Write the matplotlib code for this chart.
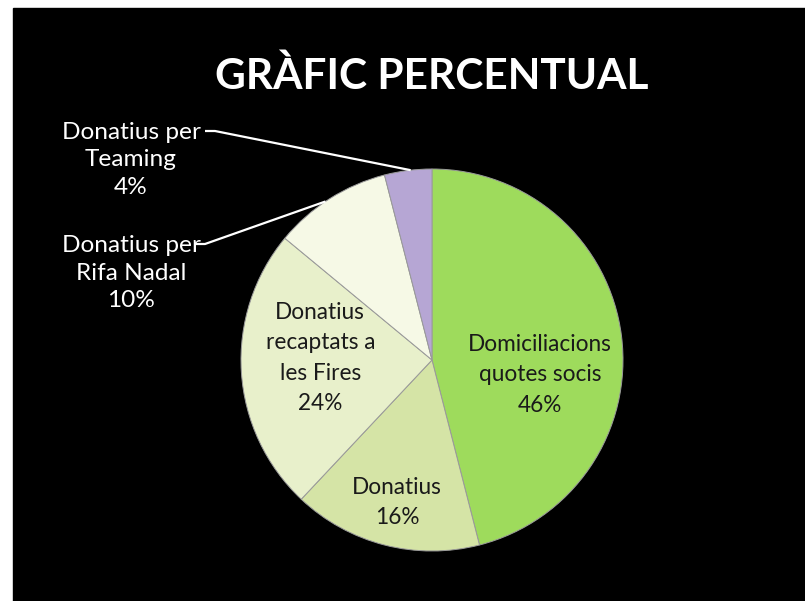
import matplotlib
matplotlib.use("Agg")
import matplotlib.pyplot as plt
import numpy as np

title = "GRÀFIC PERCENTUAL"
categories = ["Domiciliacions\nquotes socis", "Donatius", "Donatius\nrecaptats a\nles Fires",
              "Donatius per\nRifa Nadal", "Donatius per\nTeaming"]
values = [46, 16, 24, 10, 4]
colors = ["#9edb5c", "#d5e4a6", "#e8f0cb", "#f6f9e6", "#b6a6d4"]
inside = [True, True, True, False, False]

W, H = 805, 601
fig = plt.figure(figsize=(W / 100, H / 100), dpi=100)
fig.patch.set_facecolor("white")
ax = fig.add_axes([0, 0, 1, 1])
ax.add_patch(plt.Rectangle((13, 0), W - 13, H - 8, color="black", zorder=0))

cx, cy, R = 432, H - 360, 191
wedges, _ = ax.pie(values, colors=colors, startangle=90, counterclock=False,
                   center=(cx, cy), radius=R, frame=True,
                   wedgeprops=dict(edgecolor="#9a9a9a", linewidth=0.7))
ax.set_xlim(0, W)
ax.set_ylim(0, H)
ax.set_aspect("equal")
ax.axis("off")

font = "Lato"
# label placement: (radial fraction, angle nudge in degrees)
place = {0: (0.57, -15.0), 1: (0.77, 0.6), 2: (0.585, -4.6)}
for i, w in enumerate(wedges):
    mid = np.deg2rad((w.theta1 + w.theta2) / 2)
    txt = f"{categories[i]}\n{values[i]}%"
    if inside[i]:
        f, nud = place[i]
        a = mid + np.deg2rad(nud)
        x, y = cx + f * R * np.cos(a), cy + f * R * np.sin(a)
        ax.text(x, y, txt, ha="center", va="center", fontsize=16.3, family=font,
                color="#1a1a1a", linespacing=1.55)

# outside labels with leader lines
out = {4: (131, H - 160, (215, H - 131), -0.8), 3: (131, H - 273, (205, H - 244), 1.5)}
for i, (tx, ty, (lx, ly), nud) in out.items():
    w = wedges[i]
    mid = np.deg2rad((w.theta1 + w.theta2) / 2 + nud)
    ex, ey = cx + R * np.cos(mid), cy + R * np.sin(mid)
    ax.plot([lx - 10, lx, ex], [ly, ly, ey], color="white", lw=1.6, solid_capstyle="butt")
    ax.text(tx, ty, f"{categories[i]}\n{values[i]}%", ha="center", va="center",
            fontsize=17.6, family=font, color="white", linespacing=1.4)

ax.text(cx, H - 76, title, ha="center", va="center", fontsize=30.5, family=font,
        fontweight="bold", color="white")

fig.savefig("out.png", dpi=100, facecolor=fig.get_facecolor())
